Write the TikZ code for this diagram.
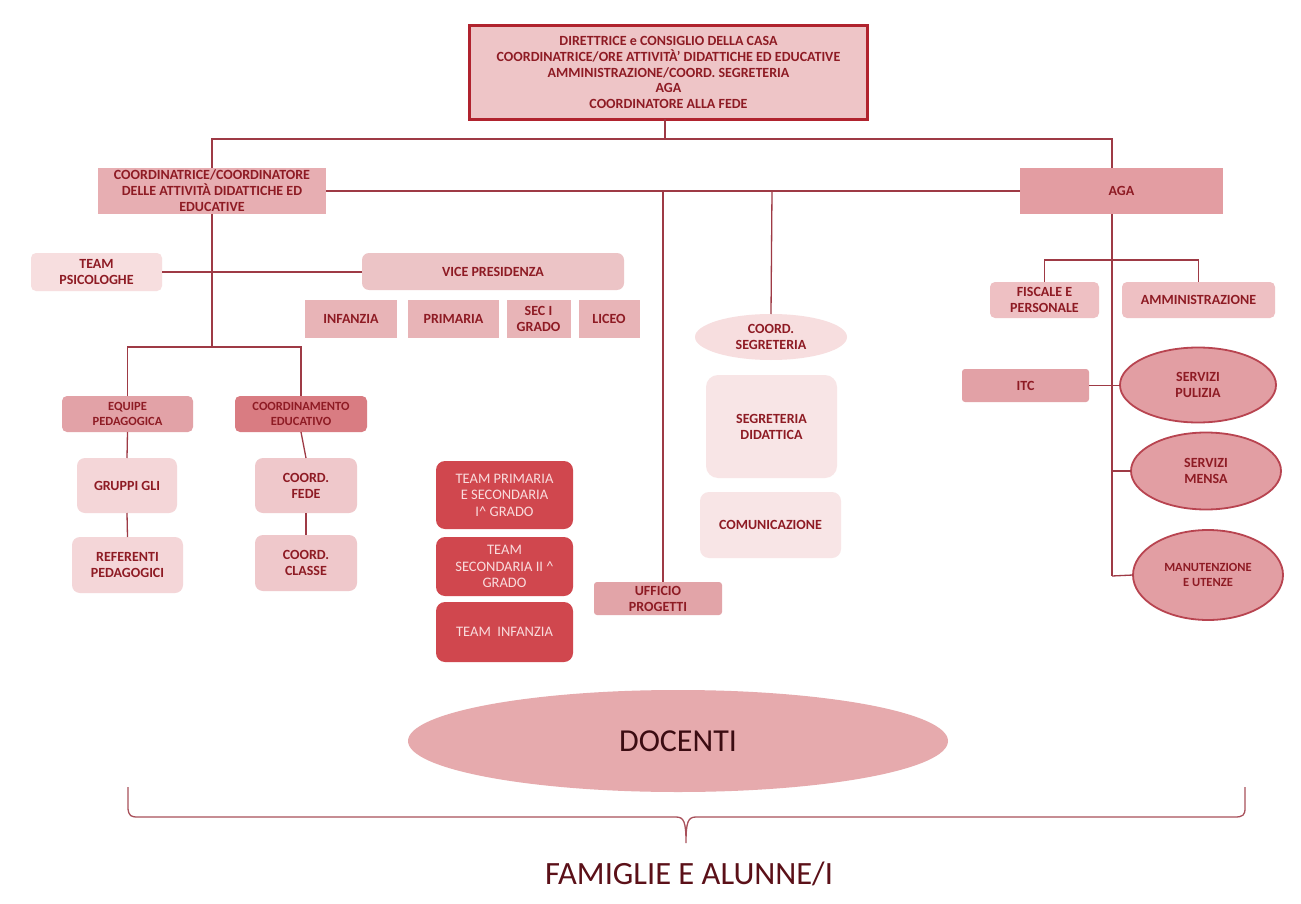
\documentclass[tikz,border=0pt]{standalone}
\usepackage{fontspec}
\setmainfont{Carlito}
\usetikzlibrary{shapes.geometric}
\definecolor{txt}{HTML}{8E1B24}
\definecolor{lnc}{HTML}{9E3A45}
\definecolor{fTop}{HTML}{EEC5C7}
\definecolor{bTop}{HTML}{B0232E}
\definecolor{fCoord}{HTML}{E7AEB2}
\definecolor{fAga}{HTML}{E39DA2}
\definecolor{fPale}{HTML}{F7DEDF}
\definecolor{fVice}{HTML}{ECC4C6}
\definecolor{fGrade}{HTML}{E8B4B7}
\definecolor{fEquipe}{HTML}{E2A2A7}
\definecolor{fCedu}{HTML}{D97C82}
\definecolor{fGruppi}{HTML}{F4D6D8}
\definecolor{fFede}{HTML}{EFC8CB}
\definecolor{fTeam}{HTML}{D0474E}
\definecolor{tTeam}{HTML}{F9DCDD}
\definecolor{fUff}{HTML}{E2A4A8}
\definecolor{fSeg}{HTML}{F8E5E6}
\definecolor{fFisc}{HTML}{EEC0C3}
\definecolor{fItc}{HTML}{E2A1A6}
\definecolor{fServ}{HTML}{E29EA3}
\definecolor{bServ}{HTML}{B84450}
\definecolor{fDoc}{HTML}{E6AAAD}
\definecolor{tDoc}{HTML}{3B0C12}
\definecolor{brc}{HTML}{A8505A}
\definecolor{tFam}{HTML}{5B1018}
\begin{document}
\begin{tikzpicture}[x=1pt,y=-1pt,
  base/.style={inner sep=0pt, outer sep=0pt, align=center, text=txt,
    font=\fontsize{14}{16}\selectfont\bfseries},
  sqbox/.style={base, rectangle},
  rbox/.style={base, rectangle, rounded corners=5pt},
  smallf/.style={font=\fontsize{12.5}{15}\selectfont\bfseries},
  teambox/.style={base, rectangle, rounded corners=9pt, fill=fTeam, text=tTeam,
    font=\fontsize{14.5}{16.5}\selectfont, minimum width=137pt},
  servell/.style={base, ellipse, fill=fServ, draw=bServ, line width=1.8pt},
  conn/.style={draw=lnc, line width=1.3pt}
]
\fill[white] (0,0) rectangle (1301,904);

% top box
\node[sqbox, fill=fTop, draw=bTop, line width=3pt, minimum width=398pt, minimum height=94pt,
  font=\fontsize{14}{15.6}\selectfont\bfseries] (top) at (668.5,72.5)
  {DIRETTRICE e CONSIGLIO DELLA CASA\\COORDINATRICE/ORE ATTIVIT\`A' DIDATTICHE ED EDUCATIVE\\AMMINISTRAZIONE/COORD. SEGRETERIA\\AGA\\COORDINATORE ALLA FEDE};

% second level
\node[sqbox, fill=fCoord, minimum width=228pt, minimum height=46pt] (coord) at (212,191)
  {COORDINATRICE/COORDINATORE\\DELLE ATTIVIT\`A DIDATTICHE ED\\EDUCATIVE};
\node[sqbox, fill=fAga, minimum width=203pt, minimum height=46pt] (aga) at (1121.5,191) {AGA};

% left part
\node[rbox, fill=fPale, minimum width=131pt, minimum height=38pt] (psic) at (96.5,272) {TEAM\\PSICOLOGHE};
\node[rbox, rounded corners=7pt, fill=fVice, minimum width=262pt, minimum height=37pt] (vice) at (493,271.5) {VICE PRESIDENZA};
\node[sqbox, fill=fGrade, minimum width=92pt, minimum height=38pt] (infanzia) at (351,319) {INFANZIA};
\node[sqbox, fill=fGrade, minimum width=91pt, minimum height=38pt] (primaria) at (453.5,319) {PRIMARIA};
\node[sqbox, fill=fGrade, minimum width=64pt, minimum height=38pt] (seci) at (538.5,319) {SEC I\\GRADO};
\node[sqbox, fill=fGrade, minimum width=61pt, minimum height=38pt] (liceo) at (609,319) {LICEO};

\node[rbox, smallf, fill=fEquipe, minimum width=131pt, minimum height=36pt] (equipe) at (127.5,414) {EQUIPE\\PEDAGOGICA};
\node[rbox, smallf, fill=fCedu, minimum width=132pt, minimum height=36pt] (cedu) at (301,414) {COORDINAMENTO\\EDUCATIVO};
\node[rbox, rounded corners=8pt, fill=fGruppi, minimum width=100pt, minimum height=55pt] (gruppi) at (127,485.5) {GRUPPI GLI};
\node[rbox, rounded corners=8pt, fill=fGruppi, minimum width=111pt, minimum height=56pt] (referenti) at (127.5,565) {REFERENTI\\PEDAGOGICI};
\node[rbox, rounded corners=8pt, fill=fFede, minimum width=102pt, minimum height=55pt] (fede) at (306,485.5) {COORD.\\FEDE};
\node[rbox, rounded corners=8pt, fill=fFede, minimum width=102pt, minimum height=56pt] (classe) at (306,563) {COORD.\\CLASSE};

% teams
\node[teambox, minimum height=68pt] (teamP) at (504.5,495) {TEAM PRIMARIA\\E SECONDARIA\\I\textasciicircum\ GRADO};
\node[teambox, minimum height=59pt] (teamS) at (504.5,566.5) {TEAM\\SECONDARIA II \textasciicircum\\GRADO};
\node[teambox, minimum height=60pt] (teamI) at (504.5,632) {TEAM\ \ INFANZIA};

% middle
\node[rbox, rounded corners=3pt, fill=fUff, minimum width=128pt, minimum height=33pt] (ufficio) at (658,598.5) {UFFICIO\\PROGETTI};
\node[base, ellipse, fill=fPale, minimum width=152pt, minimum height=46pt] (cseg) at (771,337) {COORD.\\SEGRETERIA};
\node[rbox, rounded corners=12pt, fill=fSeg, minimum width=131pt, minimum height=103pt] (segdid) at (771.5,426.5) {SEGRETERIA\\DIDATTICA};
\node[rbox, rounded corners=9pt, fill=fSeg, minimum width=141pt, minimum height=66pt] (comunic) at (770.5,525) {COMUNICAZIONE};

% right part
\node[rbox, fill=fFisc, minimum width=109pt, minimum height=36pt] (fiscale) at (1044.5,300) {FISCALE E\\PERSONALE};
\node[rbox, fill=fFisc, minimum width=153pt, minimum height=36pt] (ammin) at (1198.5,300) {AMMINISTRAZIONE};
\node[rbox, rounded corners=3pt, fill=fItc, minimum width=127pt, minimum height=33pt] (itc) at (1025.5,385.5) {ITC};
\node[servell, minimum width=156pt, minimum height=75pt] (pulizia) at (1198,385) {SERVIZI\\PULIZIA};
\node[servell, minimum width=150pt, minimum height=77pt] (mensa) at (1206,471) {SERVIZI\\MENSA};
\node[servell, smallf, minimum width=150pt, minimum height=90pt] (manut) at (1208,575) {MANUTENZIONE\\E UTENZE};

% bottom
\node[base, ellipse, fill=fDoc, text=tDoc, font=\fontsize{32}{36}\selectfont,
  minimum width=540pt, minimum height=102pt] (docenti) at (678,741) {DOCENTI};
\node[base, text=tFam, font=\fontsize{32.5}{36}\selectfont] (famiglie) at (689,874) {FAMIGLIE E ALUNNE/I};

% coordinates for junctions
\coordinate (hub) at (665,139);
\coordinate (agaN) at (1112,168);
\coordinate (agaS) at (1112,214);
\coordinate (u1) at (663,191);
\coordinate (ufN) at (663,582);
\coordinate (s1) at (772,191);
\coordinate (b1) at (212,347);
\coordinate (b2) at (1112,260);
\coordinate (v3) at (1112,576);
\coordinate (m1) at (1112,471);

% connectors
\draw[conn] (top.south -| hub) -- (hub);
\draw[conn] (coord.north) |- (hub) -| (agaN);
\draw[conn] (coord.east) -- (aga.west);
\draw[conn] (u1) -- (ufN);
\draw[conn] (s1) -- (cseg.north);
\draw[conn] (coord.south) -- (b1);
\draw[conn] (psic.east) -- (psic.east -| vice.west);
\draw[conn] (equipe.north) |- (b1) -| (cedu.north);
\draw[conn] (equipe.south) -- (gruppi.north);
\draw[conn] (gruppi.south) -- (referenti.north);
\draw[conn] (cedu.south) -- (fede.north);
\draw[conn] (fede.south) -- (classe.north);
\draw[conn] (agaS) -- (v3);
\draw[conn] (fiscale.north) |- (b2) -| (ammin.north);
\draw[conn] (itc.east) -- (itc.east -| pulizia.west);
\draw[conn] (m1) -- (mensa.west);
\draw[conn] (v3) -- (manut.west);

% brace
\coordinate (brL) at (128,787);
\coordinate (brR) at (1245,787);
\coordinate (brT) at (686,843);
\draw[brc, line width=1.3pt] (brL) -- (128,809) .. controls (129,816) and (131,817) .. (138,817)
  -- (676,817) .. controls (684,817) and (686,822) .. (brT)
  .. controls (686,822) and (688,817) .. (696,817)
  -- (1235,817) .. controls (1243,817) and (1245,815) .. (1245,808) -- (brR);
\end{tikzpicture}
\end{document}
